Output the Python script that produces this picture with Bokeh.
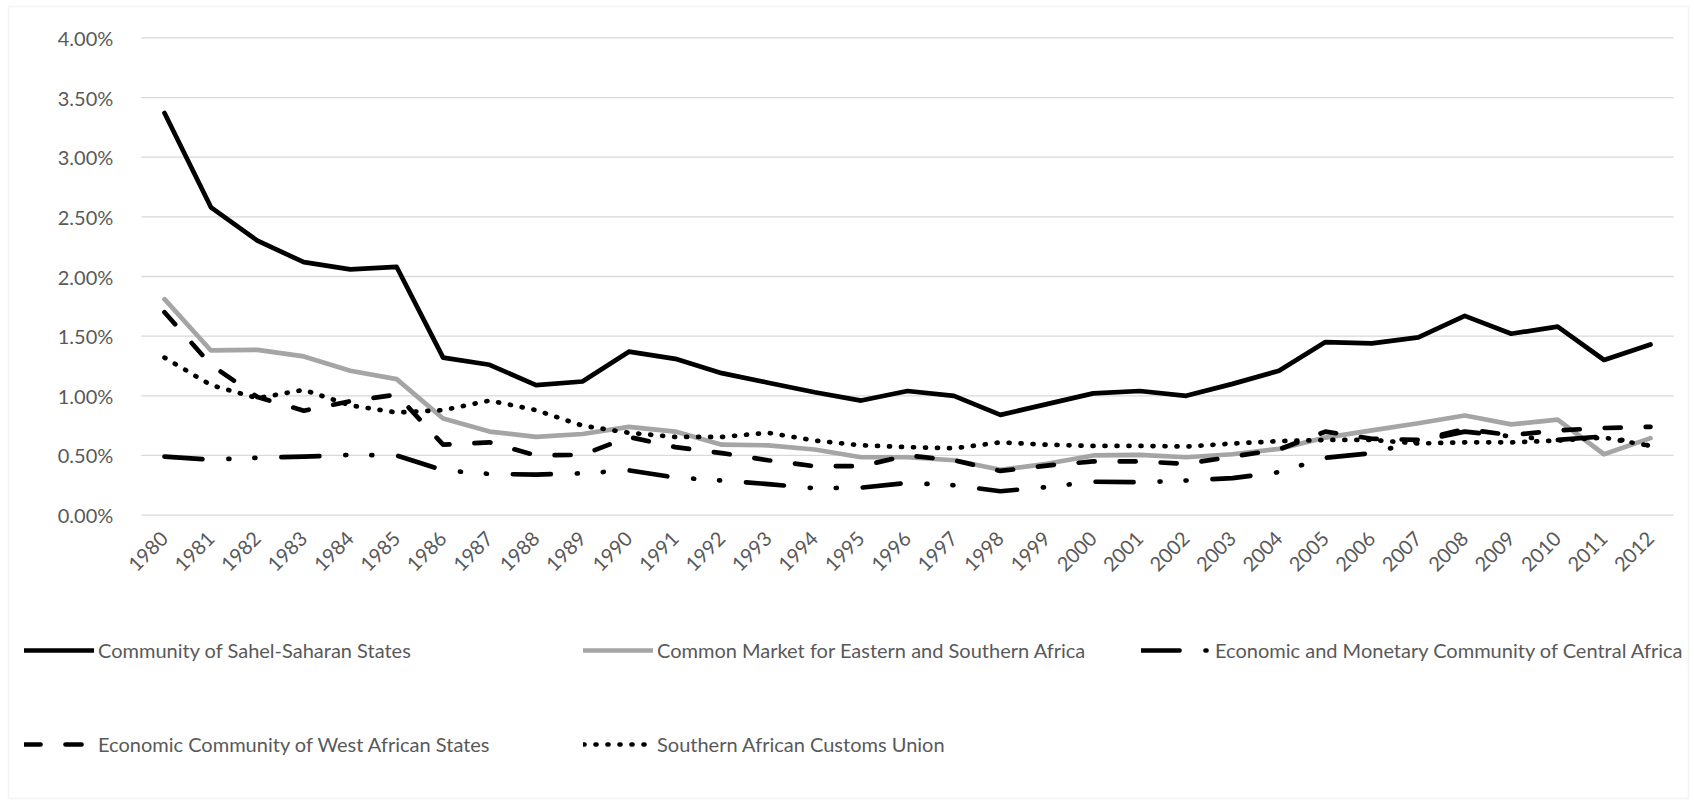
from bokeh.plotting import figure
from bokeh.models import (Range1d, FixedTicker, PrintfTickFormatter,
                          Legend, LegendItem, BoxAnnotation)
from bokeh.embed import file_html
from bokeh.resources import INLINE
import math

years = list(range(1980, 2013))

cen_sad = [3.37, 2.58, 2.30, 2.12, 2.06, 2.08, 1.32, 1.26, 1.09, 1.12,
           1.37, 1.31, 1.19, 1.11, 1.03, 0.96, 1.04, 1.00, 0.84, 0.93,
           1.02, 1.04, 1.00, 1.10, 1.21, 1.45, 1.44, 1.49, 1.67, 1.52,
           1.58, 1.30, 1.43]
comesa = [1.81, 1.38, 1.385, 1.33, 1.21, 1.14, 0.81, 0.70, 0.655, 0.68,
          0.74, 0.70, 0.59, 0.585, 0.55, 0.485, 0.485, 0.46, 0.38, 0.43,
          0.50, 0.505, 0.485, 0.51, 0.555, 0.65, 0.71, 0.77, 0.835, 0.76,
          0.80, 0.51, 0.645]
eccas = [0.49, 0.465, 0.48, 0.49, 0.505, 0.50, 0.375, 0.345, 0.34, 0.35,
         0.375, 0.315, 0.29, 0.26, 0.225, 0.23, 0.27, 0.25, 0.20, 0.235,
         0.28, 0.275, 0.29, 0.31, 0.36, 0.48, 0.52, 0.62, 0.70, 0.66,
         0.63, 0.66, 0.58]
ecowas = [1.70, 1.26, 0.99, 0.875, 0.955, 1.01, 0.59, 0.61, 0.50, 0.505,
          0.655, 0.57, 0.52, 0.46, 0.41, 0.41, 0.50, 0.46, 0.37, 0.415,
          0.45, 0.45, 0.43, 0.49, 0.55, 0.70, 0.64, 0.63, 0.72, 0.67,
          0.71, 0.73, 0.74]
sacu = [1.32, 1.09, 0.98, 1.05, 0.92, 0.86, 0.88, 0.96, 0.88, 0.75,
        0.69, 0.655, 0.655, 0.69, 0.625, 0.585, 0.57, 0.56, 0.61, 0.59,
        0.58, 0.58, 0.575, 0.60, 0.62, 0.63, 0.63, 0.60, 0.61, 0.61,
        0.625, 0.65, 0.58]

labels = ["Community of Sahel-Saharan States",
          "Common Market for Eastern and Southern Africa",
          "Economic and Monetary Community of Central Africa",
          "Economic Community of West African States",
          "Southern African Customs Union"]
y_ticks = [0.0, 0.5, 1.0, 1.5, 2.0, 2.5, 3.0, 3.5, 4.0]

FONT = "Lato"
TXT = "#595959"
FS = "20px"
GRID = "#d9d9d9"

W, H = 1694, 801
# pixel layout of the plotting area inside the canvas
X0PX, X1PX = 164.0, 1650.0          # centres of first / last category
Y0PX, Y4PX = 514.6, 37.4            # 0 % and 4 % gridlines
ppx = (X1PX - X0PX) / (years[-1] - years[0])
ppy = (Y0PX - Y4PX) / 4.0
x_start = years[0] - X0PX / ppx
x_end = years[-1] + (W - X1PX) / ppx
y_end = 4.0 + Y4PX / ppy
y_start = -(H - Y0PX) / ppy
x_lo = years[0] - 0.5
x_hi = years[-1] + 0.5

p = figure(width=W, height=H, x_range=Range1d(x_start, x_end),
           y_range=Range1d(y_start, y_end),
           output_backend="svg", toolbar_location=None,
           min_border_left=0, min_border_right=0,
           min_border_top=0, min_border_bottom=0)
p.title.visible = False
p.outline_line_color = None
p.background_fill_color = "white"
p.border_fill_color = "white"
p.xgrid.visible = False
p.ygrid.visible = False

# gridlines across the category span
p.segment(x0=[x_lo] * len(y_ticks), x1=[x_hi] * len(y_ticks), y0=y_ticks, y1=y_ticks,
          line_color=GRID, line_width=1.3)

p.yaxis.fixed_location = x_lo
p.yaxis.ticker = FixedTicker(ticks=y_ticks)
p.yaxis.formatter = PrintfTickFormatter(format="%.2f%%")
p.yaxis.axis_line_color = None
p.yaxis.major_tick_line_color = None
p.yaxis.minor_tick_line_color = None
p.yaxis.major_label_standoff = 22
p.yaxis.major_label_text_color = TXT
p.yaxis.major_label_text_font = FONT
p.yaxis.major_label_text_font_size = FS

p.xaxis.fixed_location = 0
p.xaxis.ticker = FixedTicker(ticks=years)
p.xaxis.formatter = PrintfTickFormatter(format="%d")
p.xaxis.axis_line_color = None
p.xaxis.major_tick_line_color = None
p.xaxis.minor_tick_line_color = None
p.xaxis.major_label_orientation = math.pi / 4
p.xaxis.major_label_standoff = 14
p.xaxis.major_label_text_color = TXT
p.xaxis.major_label_text_font = FONT
p.xaxis.major_label_text_font_size = FS

common = dict(line_width=4.7, line_cap="round", line_join="round")
r1 = p.line(years, cen_sad, line_color="black", **common)
r2 = p.line(years, comesa, line_color="#a5a5a5", **common)
r3 = p.line(years, eccas, line_color="black", line_dash="38 26 1 25 1 26", **common)
r4 = p.line(years, ecowas, line_color="black", line_dash="16 25", **common)
r5 = p.line(years, sacu, line_color="black", line_dash="1 11", **common)

# legend entries: (renderer, label, left x on canvas, centre y on canvas)
entries = [(r1, labels[0], 24, 652), (r2, labels[1], 583, 652), (r3, labels[2], 1141, 652),
           (r4, labels[3], 24, 746), (r5, labels[4], 583, 746)]
GH = 20
for rr, lab, x, yc in entries:
    leg = Legend(items=[LegendItem(label=lab, renderers=[rr])],
                 location=(x, H - (yc + GH / 2)),
                 border_line_color=None, background_fill_alpha=0,
                 padding=0, margin=0, spacing=0,
                 glyph_width=70, glyph_height=GH, label_height=GH,
                 label_standoff=4,
                 label_text_font=FONT, label_text_font_size=FS,
                 label_text_color=TXT)
    p.add_layout(leg, "center")

border = BoxAnnotation(left=8, right=1688, top=6, bottom=798,
                       left_units="canvas", right_units="canvas",
                       top_units="canvas", bottom_units="canvas",
                       fill_alpha=0, line_color=GRID, line_width=1.5)
p.add_layout(border)

open("out.html", "w").write(file_html(p, INLINE))
